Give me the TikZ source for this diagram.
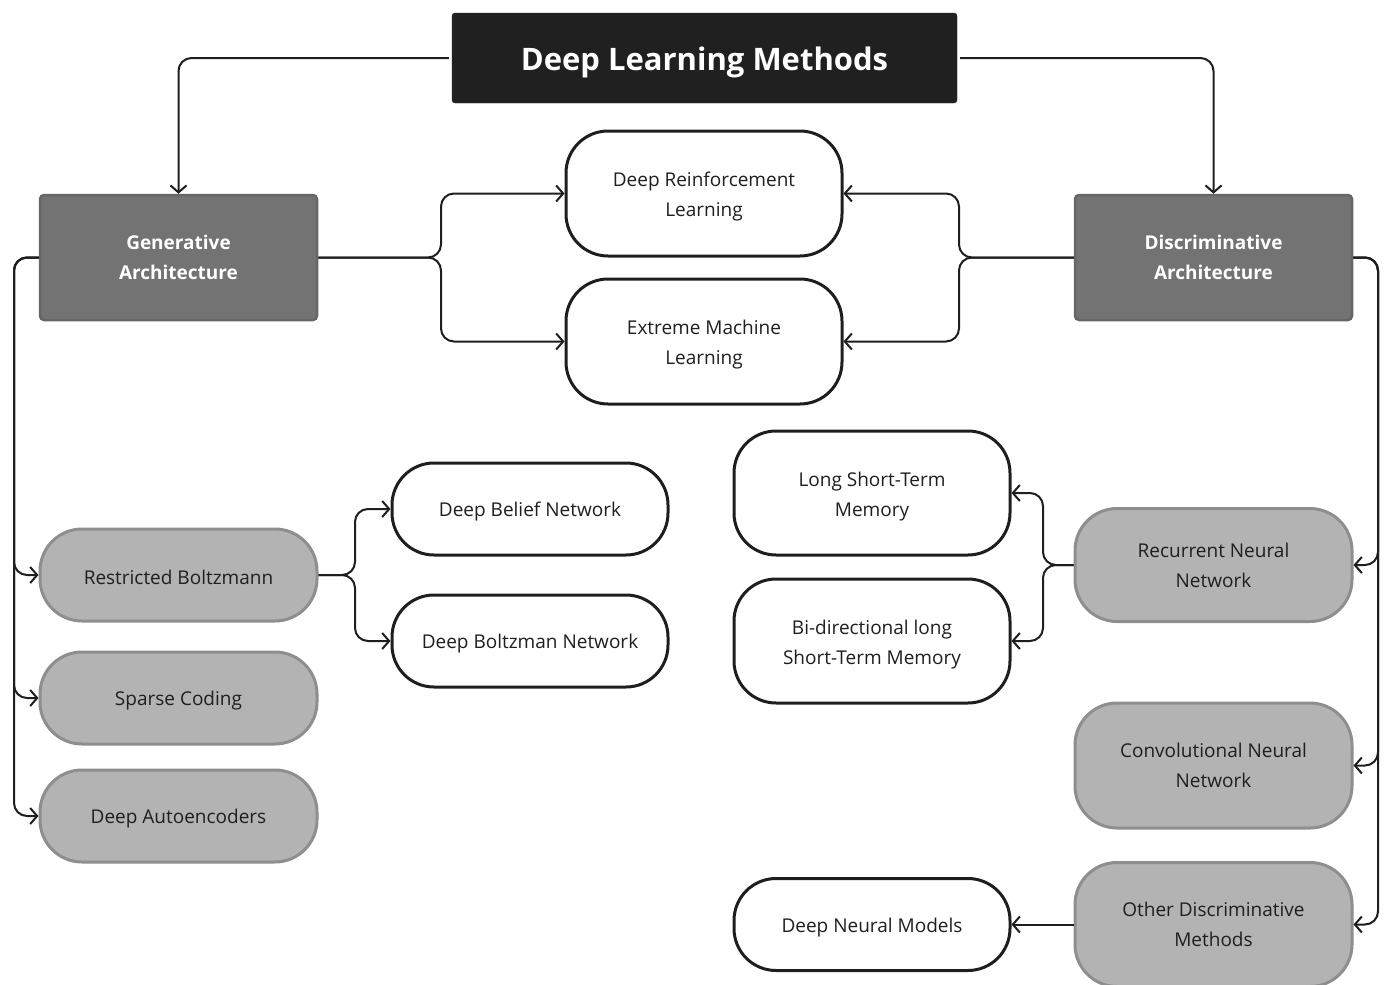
\documentclass[tikz,border=0pt]{standalone}
\usepackage{fontspec}
\setmainfont{Open Sans}
\usetikzlibrary{arrows.meta}
\definecolor{titlefill}{HTML}{202020}
\definecolor{archfill}{HTML}{737373}
\definecolor{archline}{HTML}{666666}
\definecolor{methfill}{HTML}{B3B3B3}
\definecolor{methline}{HTML}{8E8E8E}
\definecolor{inkline}{HTML}{1E1E1E}
\definecolor{inktext}{HTML}{1F1F1F}
% extra head room on a first line, to sit two-line labels a little lower
\newcommand\headroom{\rule{0pt}{21pt}}
\tikzset{
  base/.style={align=center, inner sep=0pt, font=\fontsize{19}{30}\selectfont,
    execute at begin node={\rule{0pt}{20pt}}},
  titlebox/.style={base, fill=titlefill, draw=titlefill, rounded corners=3pt,
    minimum width=505pt, minimum height=90pt, text=white,
    font=\fontsize{31}{38}\selectfont\bfseries,
    execute at begin node={\rule{0pt}{33pt}}},
  archbox/.style={base, fill=archfill, draw=archline, line width=2.5pt, rounded corners=4pt,
    minimum width=277pt, minimum height=125pt, text=white,
    font=\fontsize{19}{30}\selectfont\bfseries},
  methbox/.style={base, fill=methfill, draw=methline, line width=3pt, rounded corners=42pt,
    minimum width=277pt, text=inktext},
  leafbox/.style={base, fill=white, draw=inkline, line width=3pt, rounded corners=42pt,
    minimum width=276pt, text=inktext},
  link/.style={draw=inkline, line width=2pt, rounded corners=13pt,
    -{Straight Barb[length=7pt,width=16pt,line width=2pt]}}
}
\begin{document}
\begin{tikzpicture}[x=1pt,y=-1pt]
\useasboundingbox (0,0) rectangle (1385,985);

% top level
\node[titlebox] (dlm) at (704.5,58) {Deep Learning Methods};
\node[archbox] (gen) at (178.5,257.5) {Generative\\Architecture};
\node[archbox] (dis) at (1213.5,257.5) {Discriminative\\Architecture};

% shared methods
\node[leafbox, minimum height=125pt] (drl) at (704,193.5) {\headroom Deep Reinforcement\\Learning};
\node[leafbox, minimum height=125pt] (elm) at (704,341.5) {\headroom Extreme Machine\\Learning};

% generative branch
\node[methbox, minimum height=92pt] (rbm) at (178.5,575) {Restricted Boltzmann};
\node[methbox, minimum height=92pt] (sc) at (178.5,698) {Sparse Coding};
\node[methbox, minimum height=92pt] (dae) at (178.5,816) {Deep Autoencoders};
\node[leafbox, minimum height=92pt] (dbn) at (530,509) {Deep Belief Network};
\node[leafbox, minimum height=92pt] (dbm) at (530,641) {Deep Boltzman Network};

% discriminative branch
\node[methbox, minimum height=113pt] (rnn) at (1213.5,565) {Recurrent Neural\\Network};
\node[methbox, minimum height=125pt] (cnn) at (1213.5,765.5) {Convolutional Neural\\Network};
\node[methbox, minimum height=124pt] (odm) at (1213.5,924.5) {Other Discriminative\\Methods};
\node[leafbox, minimum height=124pt] (lstm) at (872,493) {\headroom Long Short-Term\\Memory};
\node[leafbox, minimum height=124pt] (bil) at (872,641) {\headroom Bi-directional long\\Short-Term Memory};
\node[leafbox, minimum height=92pt] (dnm) at (872,924.5) {Deep Neural Models};

% title to architectures
\path[link] ([xshift=-3pt]dlm.west) -- (178.5,58) -- (gen.north);
\path[link] ([xshift=3pt]dlm.east) -- (1213.5,58) -- (dis.north);

% generative to shared methods
\path[link] (gen.east) -- (441,257.5) -- (441,193.5) -- (drl.west);
\path[link] (gen.east) -- (441,257.5) -- (441,341.5) -- (elm.west);

% discriminative to shared methods
\path[link] (dis.west) -- (959,257.5) -- (959,193.5) -- (drl.east);
\path[link] (dis.west) -- (959,257.5) -- (959,341.5) -- (elm.east);

% generative rail
\path[link] (gen.west) -- (14,257.5) -- (14,575) -- (rbm.west);
\path[link] (gen.west) -- (14,257.5) -- (14,698) -- (sc.west);
\path[link] (gen.west) -- (14,257.5) -- (14,816) -- (dae.west);

% discriminative rail
\path[link] (dis.east) -- (1378,257.5) -- (1378,565) -- (rnn.east);
\path[link] (dis.east) -- (1378,257.5) -- (1378,765.5) -- (cnn.east);
\path[link] (dis.east) -- (1378,257.5) -- (1378,924.5) -- (odm.east);

% restricted boltzmann split
\path[link] (rbm.east) -- (355,575) -- (355,509) -- (dbn.west);
\path[link] (rbm.east) -- (355,575) -- (355,641) -- (dbm.west);

% recurrent split
\path[link] (rnn.west) -- (1043,565) -- (1043,493) -- (lstm.east);
\path[link] (rnn.west) -- (1043,565) -- (1043,641) -- (bil.east);

% other methods
\path[link] (odm.west) -- (dnm.east);
\end{tikzpicture}
\end{document}
